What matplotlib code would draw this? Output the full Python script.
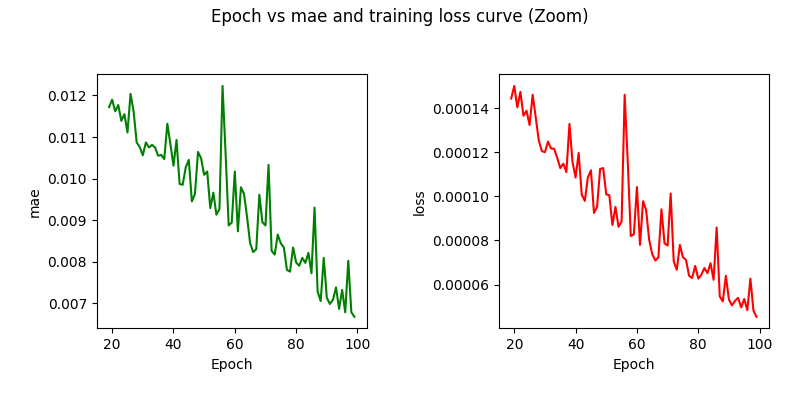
"""Epoch vs mae / training loss, zoomed to epochs 19-99."""

import matplotlib

matplotlib.use("Agg")
import matplotlib.pyplot as plt


epochs = list(range(19, 100))

mae = [
    0.01172, 0.01190, 0.01162, 0.01177, 0.01139, 0.01155, 0.01111, 0.01204,
    0.01162, 0.01087, 0.01076, 0.01056, 0.01087, 0.01075, 0.01081, 0.01075,
    0.01055, 0.01057, 0.01047, 0.01132, 0.01083, 0.01031, 0.01093, 0.00987,
    0.00985, 0.01027, 0.01045, 0.00945, 0.00963, 0.01064, 0.01049, 0.01009,
    0.01017, 0.00929, 0.00966, 0.00913, 0.00927, 0.01223, 0.01060, 0.00887,
    0.00894, 0.01017, 0.00873, 0.00979, 0.00963, 0.00907, 0.00844, 0.00823,
    0.00830, 0.00961, 0.00895, 0.00887, 0.01033, 0.00826, 0.00817, 0.00865,
    0.00844, 0.00834, 0.00780, 0.00776, 0.00834, 0.00798, 0.00790, 0.00809,
    0.00797, 0.00821, 0.00772, 0.00930, 0.00728, 0.00705, 0.00809, 0.00713,
    0.00698, 0.00708, 0.00738, 0.00686, 0.00732, 0.00678, 0.00802, 0.00678,
    0.00667,
]

loss = [
    0.0001443, 0.0001500, 0.0001403, 0.0001473, 0.0001365, 0.0001388,
    0.0001323, 0.0001460, 0.0001358, 0.0001253, 0.0001205, 0.0001200,
    0.0001248, 0.0001217, 0.0001215, 0.0001175, 0.0001128, 0.0001148,
    0.0001110, 0.0001328, 0.0001155, 0.0001085, 0.0001197, 0.0001008,
    0.0000979, 0.0001085, 0.0001118, 0.0000925, 0.0000952, 0.0001124,
    0.0001128, 0.0001009, 0.0001005, 0.0000870, 0.0000952, 0.0000862,
    0.0000885, 0.0001460, 0.0001160, 0.0000820, 0.0000828, 0.0001042,
    0.0000780, 0.0000978, 0.0000937, 0.0000802, 0.0000738, 0.0000709,
    0.0000724, 0.0000941, 0.0000787, 0.0000777, 0.0001013, 0.0000705,
    0.0000667, 0.0000780, 0.0000724, 0.0000712, 0.0000640, 0.0000630,
    0.0000685, 0.0000627, 0.0000645, 0.0000675, 0.0000652, 0.0000697,
    0.0000622, 0.0000859, 0.0000547, 0.0000524, 0.0000640, 0.0000532,
    0.0000506, 0.0000527, 0.0000540, 0.0000497, 0.0000535, 0.0000484,
    0.0000627, 0.0000482, 0.0000454,
]


def main():
    fig, (ax0, ax1) = plt.subplots(1, 2, figsize=(8, 4), dpi=100)
    fig.subplots_adjust(left=0.121, right=0.961, bottom=0.179, top=0.814, wspace=0.49)

    ax0.plot(epochs, mae, color="green")
    ax0.set_xlabel("Epoch")
    ax0.set_ylabel("mae")

    ax1.plot(epochs, loss, color="red")
    ax1.set_xlabel("Epoch")
    ax1.set_ylabel("loss")

    fig.suptitle("Epoch vs mae and training loss curve (Zoom)")
    fig.savefig("out.png")
    plt.close(fig)


if __name__ == "__main__":
    main()
